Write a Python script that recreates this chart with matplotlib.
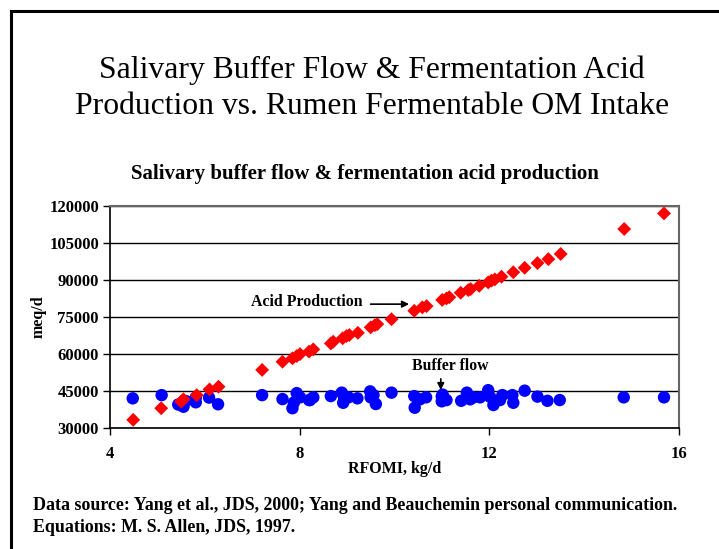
import matplotlib
matplotlib.use("Agg")
import matplotlib.pyplot as plt
from matplotlib.lines import Line2D

# ---- data ----
acid_x = [4.49, 5.08, 5.50, 5.55, 5.83, 6.10, 6.29, 7.21, 7.64, 7.85, 7.94, 8.01,
          8.20, 8.29, 8.66, 8.71, 8.91, 8.99, 9.05, 9.23, 9.50, 9.59, 9.64, 9.94,
          10.42, 10.59, 10.68, 11.01, 11.10, 11.16, 11.40, 11.56, 11.61, 11.79,
          11.98, 12.05, 12.12, 12.26, 12.51, 12.75, 13.02, 13.25, 13.51, 14.85, 15.69]
acid_y = [33300, 38000, 40700, 41600, 43300, 45600, 46700, 53500, 56800, 58200, 59100, 59900,
          60900, 61800, 64200, 64900, 66300, 67200, 67600, 68500, 70700, 71600, 72000, 74000,
          77400, 78800, 79300, 81800, 82400, 82900, 84700, 85800, 86200, 87500,
          88900, 89600, 90100, 91200, 93000, 94800, 96700, 98300, 100400, 110500, 116800]

buf_x = [4.48, 5.09, 5.44, 5.55, 5.60, 5.81, 5.81, 6.09, 6.28, 7.21, 7.64, 7.85, 7.88,
         7.94, 8.01, 8.20, 8.22, 8.29, 8.66, 8.89, 8.94, 8.92, 9.03, 9.22, 9.49, 9.56,
         9.61, 9.50, 9.94, 10.42, 10.43, 10.54, 10.67, 11.00, 11.00, 11.05, 11.10, 11.02,
         11.41, 11.53, 11.60, 11.67, 11.81, 11.98, 12.02, 12.09, 12.12, 12.23, 12.28,
         12.49, 12.51, 12.75, 13.02, 13.23, 13.49, 14.84, 15.69]
buf_y = [42000, 43300, 39500, 38600, 40900, 42300, 40400, 42300, 39600, 43300, 41700, 38000, 40300,
         44100, 42400, 41300, 41300, 42400, 42900, 44300, 42000, 40200, 42400, 42000, 44800, 43300,
         39700, 42400, 44300, 42900, 38200, 41600, 42400, 42800, 40800, 42000, 41300, 43500,
         41000, 44300, 41600, 42400, 42400, 45300, 42600, 39300, 41000, 41300, 43300,
         43300, 40200, 45100, 42700, 41000, 41300, 42400, 42400]

x_ticks = [4, 8, 12, 16]
y_ticks = [30000, 45000, 60000, 75000, 90000, 105000, 120000]

serif = ["Liberation Serif", "DejaVu Serif"]
plt.rcParams["font.family"] = serif

fig = plt.figure(figsize=(7.19, 5.49), dpi=100)

# slide frame (left and top lines)
fig.add_artist(Line2D([11/719, 11/719], [0, 1 - 11/549], color="black", lw=2.2,
                      transform=fig.transFigure))
fig.add_artist(Line2D([11/719, 1], [1 - 11/549, 1 - 11/549], color="black", lw=2.2,
                      transform=fig.transFigure))

# slide title
fig.text(372/719, 1 - 70/549, "Salivary Buffer Flow & Fermentation Acid",
         ha="center", va="center", fontsize=22.8)
fig.text(372/719, 1 - 106/549, "Production vs. Rumen Fermentable OM Intake",
         ha="center", va="center", fontsize=22.8)

# chart title
fig.text(365/719, 1 - 174/549, "Salivary buffer flow & fermentation acid production",
         ha="center", va="center", fontsize=15, fontweight="bold")

ax = fig.add_axes([110/719, 1 - 428/549, (678.7 - 110)/719, (428 - 205.5)/549])
ax.set_xlim(4, 16)
ax.set_ylim(30000, 120000)
ax.set_xticks(x_ticks)
ax.set_yticks(y_ticks)
ax.set_xticklabels([str(v) for v in x_ticks], fontsize=12, fontweight="bold")
ax.set_yticklabels([str(v) for v in y_ticks], fontsize=12, fontweight="bold")
ax.tick_params(axis="both", direction="out", length=5, width=1, color="black", pad=3)
ax.tick_params(axis="x", pad=8)
ax.yaxis.grid(True, color="black", lw=1.0)
ax.set_axisbelow(True)
for s in ["left", "bottom"]:
    ax.spines[s].set_color("black")
    ax.spines[s].set_linewidth(1.2)
for s in ["top", "right"]:
    ax.spines[s].set_color("#666666")
    ax.spines[s].set_linewidth(1.5)

ax.scatter(buf_x, buf_y, s=80, marker="o", color="#0000ff", edgecolors="none", zorder=3)
ax.scatter(acid_x, acid_y, s=50, marker="D", color="#ff0000", edgecolors="none", zorder=4)

ax.set_xlabel("RFOMI, kg/d", fontsize=11.5, fontweight="bold", labelpad=-0.5)
ax.set_ylabel("meq/d", fontsize=11.5, fontweight="bold", labelpad=2)

# annotations
ax.annotate("", xy=(10.37, 80100), xytext=(9.44, 80100),
            arrowprops=dict(arrowstyle="-|>", color="black", lw=1.2, mutation_scale=10))
ax.text(9.34, 80950, "Acid Production", ha="right", va="center",
        fontsize=11.4, fontweight="bold")
ax.annotate("", xy=(10.98, 44200), xytext=(10.98, 51000),
            arrowprops=dict(arrowstyle="-|>", color="black", lw=1.2, mutation_scale=10))
ax.text(11.19, 55100, "Buffer flow", ha="center", va="center",
        fontsize=11.3, fontweight="bold")

# footer
fig.text(33/719, 1 - 505/549,
         "Data source: Yang et al., JDS, 2000; Yang and Beauchemin personal communication.",
         ha="left", va="center", fontsize=12.9, fontweight="bold")
fig.text(33/719, 1 - 527/549, "Equations: M. S. Allen, JDS, 1997.",
         ha="left", va="center", fontsize=12.9, fontweight="bold")

fig.savefig("out.png", dpi=100)
